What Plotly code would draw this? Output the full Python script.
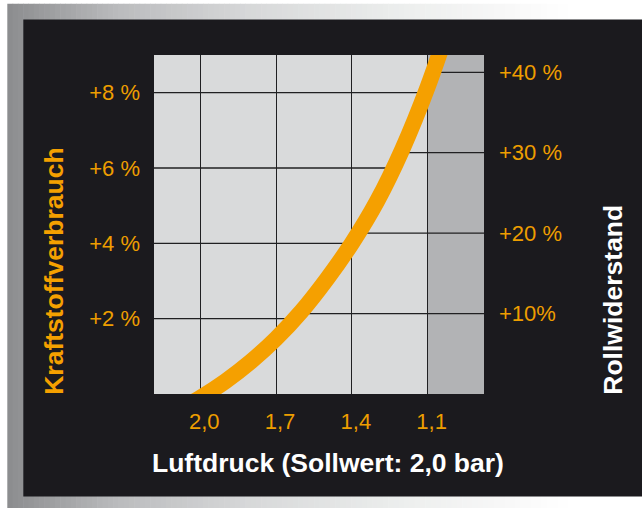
import numpy as np
import plotly.graph_objects as go

# ---------------- data ----------------
pressure = [2.1, 2.0, 1.9, 1.8, 1.7, 1.6, 1.5, 1.4, 1.3, 1.2, 1.1, 1.0]
fuel_pct = [-0.48, -0.1, 0.34, 0.86, 1.47, 2.19, 3.04, 4.0, 5.12, 6.5, 8.15, 10.1]

x_tick_vals = [2.0, 1.7, 1.4, 1.1]
x_tick_text = ["2,0", "1,7", "1,4", "1,1"]
left_tick_vals = [2, 4, 6, 8]
left_tick_text = ["+2 %", "+4 %", "+6 %", "+8 %"]
right_tick_vals = [10, 20, 30, 40]
right_tick_text = ["+10%", "+20 %", "+30 %", "+40 %"]

x_title = "Luftdruck (Sollwert: 2,0 bar)"
left_title = "Kraftstoffverbrauch"
right_title = "Rollwiderstand"

X_RANGE = [2.183, 0.877]
Y_LEFT_RANGE = [0, 9.0]
Y_RIGHT_RANGE = [0, 42.15]
LOW_PRESSURE_LIMIT = 1.1

# ---------------- style ----------------
W, H = 642, 508
ML, MR, MT, MB = 154, 158, 55, 114
PW, PH = W - ML - MR, H - MT - MB

ORANGE = "#F5A000"
TICK_ORANGE = "#EE9E00"
BLACK = "#1B1A1E"
PLOT_BG = "#D9DADB"
DARK_BG = "#B2B3B5"
GRID = "#202022"
FONT = "Liberation Sans, Arial, Helvetica, sans-serif"


def xp(px):
    return (px - ML) / PW


def yp(py):
    return (MT + PH - py) / PH


def hex2rgb(h):
    h = h.lstrip("#")
    return [int(h[i:i + 2], 16) for i in (0, 2, 4)]


grad_stops = [(7, "#8b8c8e"), (120, "#bbbcbe"), (250, "#d7d8d9"),
              (400, "#eceeed"), (500, "#f7f7f7"), (570, "#ffffff"), (642, "#ffffff")]


def grad_color(px):
    for (a, ca), (b, cb) in zip(grad_stops[:-1], grad_stops[1:]):
        if a <= px <= b:
            t = (px - a) / (b - a)
            c1, c2 = hex2rgb(ca), hex2rgb(cb)
            c = [round(c1[i] + (c2[i] - c1[i]) * t) for i in range(3)]
            return "rgb(%d,%d,%d)" % tuple(c)
    return "#ffffff"


shapes = []
# metallic gradient frame (sliced)
n = 120
x0f, x1f = 7.3, 642
for i in range(n):
    a = x0f + (x1f - x0f) * i / n
    b = x0f + (x1f - x0f) * (i + 1) / n + 0.6
    shapes.append(dict(type="rect", xref="paper", yref="paper", layer="below",
                       x0=xp(a), x1=xp(b), y0=yp(508), y1=yp(3.7),
                       line=dict(width=0), fillcolor=grad_color((a + b) / 2)))
# black panel
shapes.append(dict(type="rect", xref="paper", yref="paper", layer="below",
                   x0=xp(23.3), x1=xp(650), y0=yp(496.6), y1=yp(19.4),
                   line=dict(width=0), fillcolor=BLACK))
# plot area background
shapes.append(dict(type="rect", xref="paper", yref="paper", layer="below",
                   x0=0, x1=1, y0=0, y1=1, line=dict(width=0), fillcolor=PLOT_BG))
# low pressure zone
shapes.append(dict(type="rect", xref="x", yref="y domain", layer="below",
                   x0=LOW_PRESSURE_LIMIT, x1=X_RANGE[1], y0=0, y1=1,
                   line=dict(width=0), fillcolor=DARK_BG))

fig = go.Figure()

# horizontal grid segments: left-axis lines end at the curve, right-axis lines start at it
p_arr = np.array(pressure)
f_arr = np.array(fuel_pct)
scale_r = Y_LEFT_RANGE[1] / Y_RIGHT_RANGE[1]
for v in left_tick_vals:
    xc = float(np.interp(v, f_arr, p_arr))
    fig.add_trace(go.Scatter(x=[X_RANGE[0], xc], y=[v, v], mode="lines",
                             line=dict(color=GRID, width=1.3), hoverinfo="skip",
                             showlegend=False))
for v in right_tick_vals:
    vl = v * scale_r
    xc = float(np.interp(vl, f_arr, p_arr))
    fig.add_trace(go.Scatter(x=[xc, X_RANGE[1]], y=[vl, vl], mode="lines",
                             line=dict(color=GRID, width=1.3), hoverinfo="skip",
                             showlegend=False))

# curve
fig.add_trace(go.Scatter(x=pressure, y=fuel_pct, mode="lines",
                         line=dict(color=ORANGE, width=16, shape="spline", smoothing=1.0),
                         showlegend=False, hoverinfo="skip"))
# invisible trace for the right axis
fig.add_trace(go.Scatter(x=[X_RANGE[0]], y=[0], yaxis="y2", mode="markers",
                         marker=dict(opacity=0), showlegend=False, hoverinfo="skip"))

fig.update_layout(
    width=W, height=H,
    margin=dict(l=ML, r=MR, t=MT, b=MB, pad=0),
    paper_bgcolor="#ffffff",
    plot_bgcolor="rgba(0,0,0,0)",
    font=dict(family=FONT, color=TICK_ORANGE, size=22),
    shapes=shapes,
    xaxis=dict(range=X_RANGE, tickvals=x_tick_vals, ticktext=x_tick_text,
               showgrid=True, gridcolor=GRID, gridwidth=1.3, zeroline=False,
               showline=False, ticks="", ticklabelstandoff=12, ticklabelshift=-4,
               tickfont=dict(size=22, color=TICK_ORANGE, family=FONT)),
    yaxis=dict(range=Y_LEFT_RANGE, tickvals=left_tick_vals, ticktext=left_tick_text,
               showgrid=False, zeroline=False, showline=False, ticks="",
               ticklabelstandoff=13,
               tickfont=dict(size=22, color=TICK_ORANGE, family=FONT)),
    yaxis2=dict(range=Y_RIGHT_RANGE, tickvals=right_tick_vals, ticktext=right_tick_text,
                overlaying="y", side="right", showgrid=False, zeroline=False,
                showline=False, ticks="", ticklabelstandoff=14,
                tickfont=dict(size=22, color=TICK_ORANGE, family=FONT)),
    annotations=[
        dict(text="<b>%s</b>" % x_title, xref="paper", yref="paper",
             x=xp(327.5), y=yp(462.7), xanchor="center", yanchor="middle",
             showarrow=False, font=dict(size=26.5, color="#ffffff", family=FONT)),
        dict(text="<b>%s</b>" % left_title, xref="paper", yref="paper",
             x=xp(53.3), y=yp(271.5), xanchor="center", yanchor="middle",
             textangle=-90, showarrow=False,
             font=dict(size=26.5, color=ORANGE, family=FONT)),
        dict(text="<b>%s</b>" % right_title, xref="paper", yref="paper",
             x=xp(612.7), y=yp(300), xanchor="center", yanchor="middle",
             textangle=-90, showarrow=False,
             font=dict(size=26.5, color="#ffffff", family=FONT)),
    ],
)

fig.write_html("out.html", config={"displayModeBar": False},
               post_script="document.body.style.margin='0';document.body.style.overflow='hidden';")
